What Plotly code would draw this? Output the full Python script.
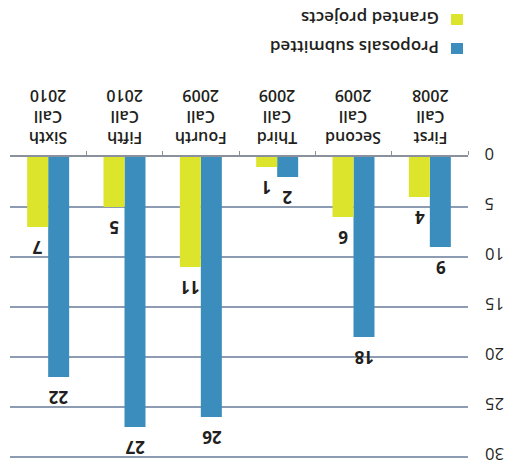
import plotly.graph_objects as go

categories = ["First<br>Call<br>2008", "Second<br>Call<br>2009", "Third<br>Call<br>2009",
              "Fourth<br>Call<br>2009", "Fifth<br>Call<br>2010", "Sixth<br>Call<br>2010"]
proposals = [9, 18, 2, 26, 27, 22]
granted = [4, 6, 1, 11, 5, 7]
series_names = ["Proposals submitted", "Granted projects"]
y_ticks = [0, 5, 10, 15, 20, 25, 30]

BLUE = "#3b8dbd"
YELLOW = "#dce52b"
TEXT = "#231f20"
FONT = "Open Sans"

W, H = 509, 461
L, R, T, B = 10, 41, 157, 2
pw, ph = W - L - R, H - T - B
Y_MAX = 30.2

def px_x(x):
    return (x - L) / pw

def px_y(y):
    return (H - B - y) / ph

fig = go.Figure()
for name, vals, col in [(series_names[0], proposals, BLUE), (series_names[1], granted, YELLOW)]:
    fig.add_trace(go.Bar(
        x=categories, y=vals, name=name, marker=dict(color=col, line=dict(width=0)),
        showlegend=False, cliponaxis=False,
    ))

fig.update_layout(
    width=W, height=H, margin=dict(l=L, r=R, t=T, b=B),
    paper_bgcolor="white", plot_bgcolor="white",
    barmode="group", bargap=0.45, bargroupgap=0,
    font=dict(family=FONT, color=TEXT),
    xaxis=dict(autorange="reversed", side="top", showticklabels=False,
               showline=True, linecolor="#8a909c", linewidth=1.5,
               ticks="outside", tickson="boundaries", ticklen=4, tickcolor="#8a909c",
               showgrid=False),
    yaxis=dict(range=[Y_MAX, 0], side="right", tickvals=y_ticks, showticklabels=False,
               showgrid=True, gridcolor="#8e9cb3", gridwidth=1.5,
               zeroline=False, showline=False),
)

# category labels (upside down)
for c in categories:
    fig.add_annotation(xref="x", yref="paper", x=c, y=px_y(117), text=c, textangle=180,
                       showarrow=False, xanchor="center", yanchor="middle",
                       font=dict(family=FONT, size=16, color=TEXT, weight=600))

# y tick labels (upside down)
for t in y_ticks:
    fig.add_annotation(xref="paper", yref="y", x=px_x(484), y=t, text=str(t), textangle=180,
                       showarrow=False, xanchor="left", yanchor="middle", yshift=2.5,
                       borderpad=0,
                       font=dict(family=FONT, size=16.5, color=TEXT))

# value labels (upside down, beyond bar ends)
for vals, dx in [(proposals, 10.5), (granted, -10.5)]:
    for c, v in zip(categories, vals):
        fig.add_annotation(xref="x", yref="y", x=c, y=v, text=str(v), textangle=180,
                           showarrow=False, xanchor="center", yanchor="middle",
                           xshift=dx, yshift=-21,
                           font=dict(family=FONT, size=17, color=TEXT, weight="bold"))

# legend drawn upside-down with annotations and swatches
legend_items = [(series_names[1], YELLOW, 20), (series_names[0], BLUE, 49)]
for name, col, yc in legend_items:
    fig.add_annotation(xref="paper", yref="paper", x=px_x(441), y=px_y(yc - 1),
                       xanchor="right", yanchor="middle", text=name, textangle=180,
                       showarrow=False,
                       font=dict(family=FONT, size=17, color=TEXT, weight=600))
    fig.add_shape(type="rect", xref="paper", yref="paper",
                  x0=px_x(451), x1=px_x(463), y0=px_y(yc - 6), y1=px_y(yc + 5),
                  fillcolor=col, line=dict(width=0))

fig.write_html("out.html")
